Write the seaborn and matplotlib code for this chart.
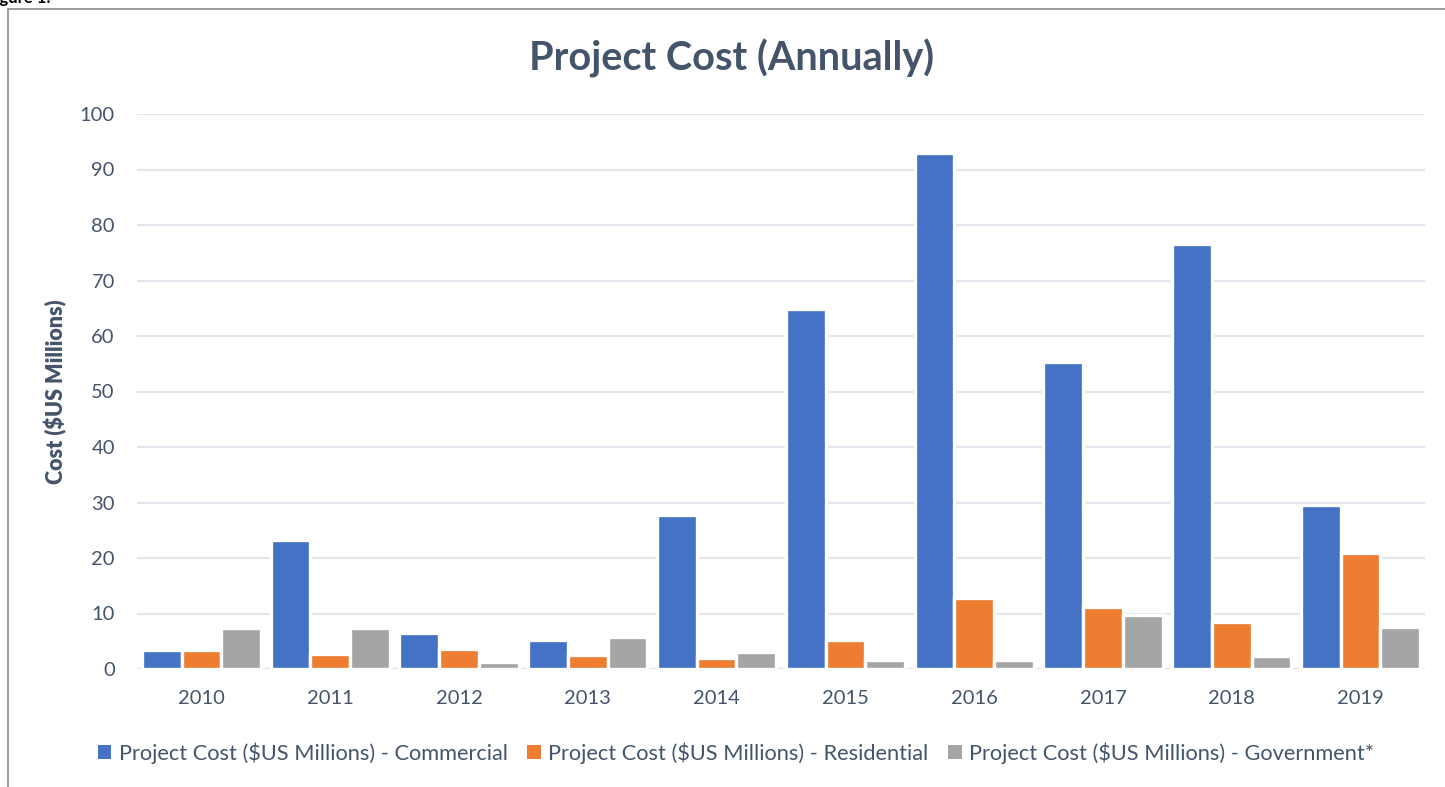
import matplotlib
matplotlib.use("Agg")
import matplotlib.pyplot as plt
import seaborn as sns
import pandas as pd
from matplotlib.lines import Line2D
from matplotlib.patches import Patch

years = ["2010", "2011", "2012", "2013", "2014", "2015", "2016", "2017", "2018", "2019"]
commercial = [3.4, 23.2, 6.5, 5.3, 27.7, 64.9, 92.9, 55.4, 76.5, 29.5]
residential = [3.45, 2.65, 3.55, 2.55, 2.05, 5.15, 12.8, 11.2, 8.5, 20.85]
government = [7.3, 7.45, 1.3, 5.85, 3.0, 1.55, 1.7, 9.65, 2.4, 7.5]
series_names = [
    "Project Cost ($US Millions) - Commercial",
    "Project Cost ($US Millions) - Residential",
    "Project Cost ($US Millions) - Government*",
]
colors = ["#4472C4", "#ED7D31", "#A5A5A5"]
yticks = list(range(0, 101, 10))

df = pd.DataFrame({
    "Year": years * 3,
    "Cost": commercial + residential + government,
    "Series": [series_names[0]] * 10 + [series_names[1]] * 10 + [series_names[2]] * 10,
})

sns.set_theme(style="white")
plt.rcParams["font.family"] = ["Lato", "DejaVu Sans"]
text_color = "#44546A"

fig = plt.figure(figsize=(14.45, 7.87), dpi=100)
ax = fig.add_axes([137 / 1445, 1 - 669 / 787, (1425 - 137) / 1445, (669 - 114) / 787])

sns.barplot(data=df, x="Year", y="Cost", hue="Series", palette=colors,
            hue_order=series_names, order=years, width=0.925,
            edgecolor="white", linewidth=2.4, saturation=1, ax=ax, legend=False)

ax.set_xlim(-0.5, 9.5)
ax.set_ylim(0, 100)
ax.set_yticks(yticks)
ax.yaxis.grid(True, color="#E1E5EC", linewidth=1.6)
ax.set_axisbelow(True)
for s in ax.spines.values():
    s.set_visible(False)
ax.axhline(0, color="#E1E5EC", linewidth=1.6, zorder=0)
ax.tick_params(axis="both", length=0, labelsize=14.5, labelcolor=text_color)
ax.tick_params(axis="x", pad=15)
ax.tick_params(axis="y", pad=16)
ax.set_xlabel("")
ax.set_ylabel("Cost ($US Millions)", fontsize=15.5, fontweight="heavy", color=text_color)
ax.yaxis.set_label_coords((67 - 137) / 1288, 0.5)

fig.text(731.5 / 1445, 1 - 58 / 787, "Project Cost (Annually)", ha="center", va="center",
         fontsize=28.5, fontweight="bold", color=text_color)

handles = [Patch(facecolor=c, edgecolor="none") for c in colors]
fig.legend(handles, series_names, loc="center", bbox_to_anchor=(736 / 1445, 1 - 753 / 787),
           ncol=3, frameon=False, fontsize=15.7, labelcolor=text_color,
           handlelength=0.62, handleheight=0.62, handletextpad=0.35, columnspacing=0.9)

# frame lines
fig.add_artist(Line2D([8 / 1445, 8 / 1445], [0, 1 - 9 / 787], transform=fig.transFigure,
                      color="#8C8C8C", linewidth=1.2))
fig.add_artist(Line2D([8 / 1445, 1], [1 - 9 / 787, 1 - 9 / 787], transform=fig.transFigure,
                      color="#8C8C8C", linewidth=1.2))
fig.text(-14 / 1445, 1 - 3 / 787, "Figure 1:", ha="left", va="baseline",
         fontsize=12, fontweight="bold", color="black")

fig.savefig("out.png", dpi=100)
